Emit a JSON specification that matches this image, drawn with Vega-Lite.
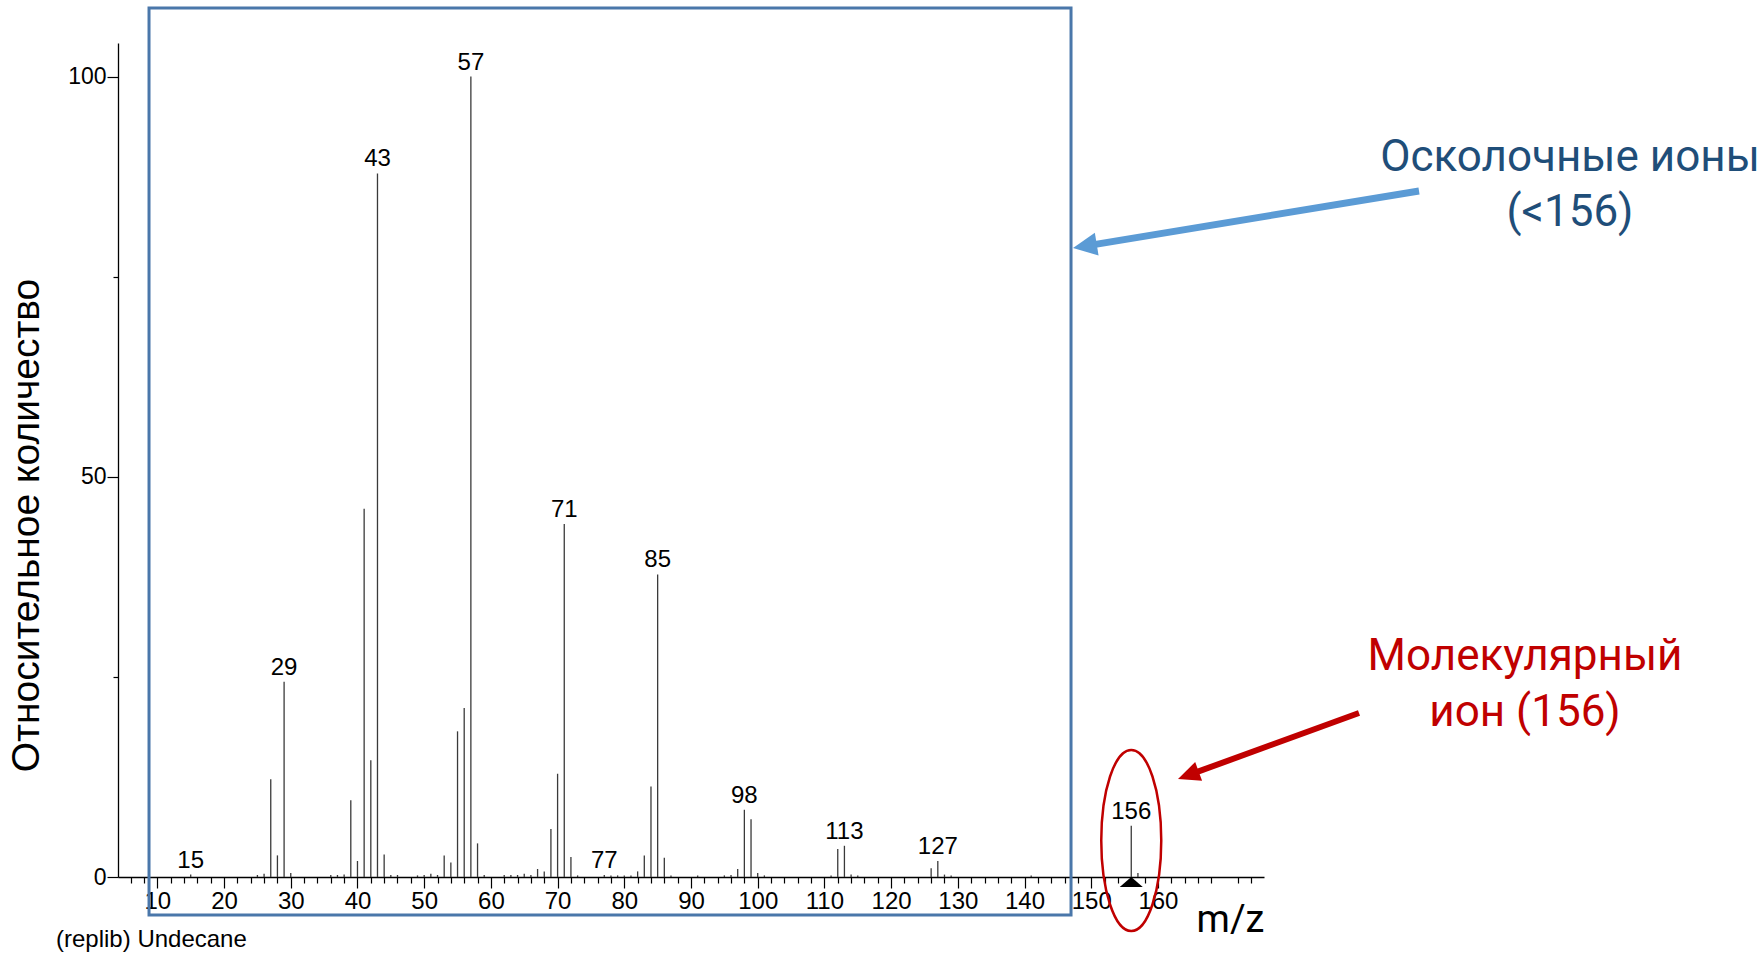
{
  "$schema": "https://vega.github.io/schema/vega-lite/v6.json",
  "width": 1146,
  "height": 834,
  "autosize": "none",
  "padding": {"left": 118, "top": 43, "right": 499, "bottom": 76},
  "background": "white",
  "config": {"view": {"stroke": null}},
  "resolve": {"axis": {"x": "independent", "y": "independent"}},
  "datasets": {
    "spectrum": [
      {"mz": 15, "ab": 0.3}, {"mz": 25, "ab": 0.25}, {"mz": 26, "ab": 0.4}, {"mz": 27, "ab": 12.2},
      {"mz": 28, "ab": 2.7}, {"mz": 29, "ab": 24.4}, {"mz": 30, "ab": 0.5}, {"mz": 36, "ab": 0.25},
      {"mz": 37, "ab": 0.25}, {"mz": 38, "ab": 0.3}, {"mz": 39, "ab": 9.6}, {"mz": 40, "ab": 2.0},
      {"mz": 41, "ab": 46.0}, {"mz": 42, "ab": 14.6}, {"mz": 43, "ab": 87.9}, {"mz": 44, "ab": 2.8},
      {"mz": 45, "ab": 0.25}, {"mz": 46, "ab": 0.25}, {"mz": 49, "ab": 0.2}, {"mz": 50, "ab": 0.25},
      {"mz": 51, "ab": 0.4}, {"mz": 52, "ab": 0.25}, {"mz": 53, "ab": 2.7}, {"mz": 54, "ab": 1.8},
      {"mz": 55, "ab": 18.2}, {"mz": 56, "ab": 21.1}, {"mz": 57, "ab": 100}, {"mz": 58, "ab": 4.2},
      {"mz": 59, "ab": 0.25}, {"mz": 62, "ab": 0.25}, {"mz": 63, "ab": 0.25}, {"mz": 64, "ab": 0.25},
      {"mz": 65, "ab": 0.4}, {"mz": 66, "ab": 0.25}, {"mz": 67, "ab": 1.0}, {"mz": 68, "ab": 0.7},
      {"mz": 69, "ab": 6.0}, {"mz": 70, "ab": 12.9}, {"mz": 71, "ab": 44.1}, {"mz": 72, "ab": 2.5},
      {"mz": 73, "ab": 0.2}, {"mz": 77, "ab": 0.25}, {"mz": 78, "ab": 0.2}, {"mz": 79, "ab": 0.2},
      {"mz": 80, "ab": 0.2}, {"mz": 81, "ab": 0.2}, {"mz": 82, "ab": 0.7}, {"mz": 83, "ab": 2.7},
      {"mz": 84, "ab": 11.3}, {"mz": 85, "ab": 37.8}, {"mz": 86, "ab": 2.4}, {"mz": 87, "ab": 0.2},
      {"mz": 91, "ab": 0.2}, {"mz": 95, "ab": 0.2}, {"mz": 96, "ab": 0.25}, {"mz": 97, "ab": 1.0},
      {"mz": 98, "ab": 8.4}, {"mz": 99, "ab": 7.2}, {"mz": 100, "ab": 0.5}, {"mz": 101, "ab": 0.2},
      {"mz": 111, "ab": 0.2}, {"mz": 112, "ab": 3.5}, {"mz": 113, "ab": 3.9}, {"mz": 114, "ab": 0.3},
      {"mz": 115, "ab": 0.2}, {"mz": 126, "ab": 1.1}, {"mz": 127, "ab": 2.0}, {"mz": 128, "ab": 0.3},
      {"mz": 129, "ab": 0.2}, {"mz": 141, "ab": 0.2}, {"mz": 156, "ab": 6.4}, {"mz": 157, "ab": 0.5}
    ]
  },
  "layer": [
    {
      "data": {"name": "spectrum"},
      "mark": {"type": "rule", "color": "#3a3a3a", "strokeWidth": 1.3},
      "encoding": {
        "x": {
          "field": "mz", "type": "quantitative",
          "scale": {"domain": [4.1, 175.9], "nice": false, "zero": false},
          "axis": {
            "orient": "bottom",
            "title": "m/z",
            "values": [10, 20, 30, 40, 50, 60, 70, 80, 90, 100, 110, 120, 130, 140, 150, 160],
            "tickSize": 11,
            "labelFont": "Liberation Sans", "labelFontSize": 24, "labelColor": "#000000",
            "labelPadding": 1, "labelFlush": false, "labelOverlap": false, "labelBound": false,
            "domainColor": "#000000", "domainWidth": 1.3, "tickColor": "#000000", "tickWidth": 1.2,
            "grid": false,
            "titleFont": "Roboto", "titleFontSize": 38, "titleFontWeight": "normal", "titleColor": "#000000",
            "titleX": 1112, "titleY": 54, "titleAlign": "center", "titleBaseline": "alphabetic", "titleAnchor": "start"
          }
        },
        "y": {
          "field": "ab", "type": "quantitative",
          "scale": {"domain": [0, 104.2], "nice": false},
          "axis": {
            "orient": "left",
            "title": "Относительное количество",
            "values": [0, 50, 100],
            "tickSize": 11,
            "labelFont": "Liberation Sans", "labelFontSize": 23, "labelColor": "#000000",
            "labelPadding": 1, "labelFlush": false, "labelOverlap": false, "labelBound": false,
            "domainColor": "#000000", "domainWidth": 1.3, "tickColor": "#000000", "tickWidth": 1.2,
            "grid": false,
            "titleFont": "Liberation Sans", "titleFontSize": 39, "titleFontWeight": "normal", "titleColor": "#000000",
            "titleAngle": -90, "titleX": -80, "titleY": 482, "titleAlign": "center", "titleBaseline": "alphabetic", "titleAnchor": "start"
          }
        },
        "y2": {"datum": 0}
      }
    },
    {
      "data": {"values": [{}]},
      "mark": {"type": "point", "shape": "M0,0L1,0.87L-1,0.87Z", "size": 529, "filled": true, "color": "#000000", "opacity": 1},
      "encoding": {
        "x": {
          "datum": 156,
          "axis": {
            "orient": "bottom", "title": null,
            "values": [6,8,12,14,16,18,22,24,26,28,32,34,36,38,42,44,46,48,52,54,56,58,62,64,66,68,72,74,76,78,82,84,86,88,92,94,96,98,102,104,106,108,112,114,116,118,122,124,126,128,132,134,136,138,142,144,146,148,152,154,156,158,162,164,166,168,172,174],
            "tickSize": 6, "labels": false, "domain": false, "grid": false,
            "tickColor": "#000000", "tickWidth": 1.2
          }
        },
        "y": {
          "datum": 0,
          "axis": {
            "orient": "left", "title": null,
            "values": [25, 75],
            "tickSize": 5, "labels": false, "domain": false, "grid": false,
            "tickColor": "#000000", "tickWidth": 1.2
          }
        }
      }
    },
    {
      "data": {"name": "spectrum"},
      "transform": [{"filter": {"field": "mz", "oneOf": [15, 29, 43, 57, 71, 77, 85, 98, 113, 127, 156]}}],
      "mark": {"type": "text", "baseline": "alphabetic", "align": "center", "dy": -7, "font": "Liberation Sans", "fontSize": 24, "color": "#000000"},
      "encoding": {
        "x": {"field": "mz", "type": "quantitative", "axis": null},
        "y": {"field": "ab", "type": "quantitative", "axis": null},
        "text": {"field": "mz", "type": "quantitative"}
      }
    },
    {
      "data": {"values": [{}]},
      "mark": {"type": "rect", "fill": null, "fillOpacity": 0, "stroke": "#4a77aa", "strokeWidth": 3},
      "encoding": {"x": {"datum": 8.75, "axis": null}, "x2": {"datum": 146.97}, "y": {"datum": 108.57, "axis": null}, "y2": {"datum": -4.75}}
    },
    {
      "data": {"values": [{}]},
      "mark": {"type": "point", "shape": "M-0.3315,0A0.3315,1 0 1,1 0.3315,0A0.3315,1 0 1,1 -0.3315,0Z", "size": 32761, "filled": false, "stroke": "#c00000", "strokeWidth": 2.5, "opacity": 1},
      "encoding": {"x": {"datum": 156, "axis": null}, "y": {"datum": 4.56, "axis": null}}
    },
    {
      "data": {"values": [{}]},
      "mark": {"type": "rule", "color": "#5b9bd5", "strokeWidth": 7, "strokeCap": "butt"},
      "encoding": {"x": {"datum": 199.14, "axis": null}, "y": {"datum": 85.71, "axis": null}, "x2": {"datum": 149.94}, "y2": {"datum": 78.95}}
    },
    {
      "data": {"values": [{}]},
      "mark": {"type": "point", "shape": "M0,0L-1,-0.48L-1,0.48Z", "size": 2304, "angle": 170.7, "filled": true, "color": "#5b9bd5", "opacity": 1},
      "encoding": {"x": {"datum": 147.27, "axis": null}, "y": {"datum": 78.59, "axis": null}}
    },
    {
      "data": {"values": [{}]},
      "mark": {"type": "rule", "color": "#c00000", "strokeWidth": 6, "strokeCap": "butt"},
      "encoding": {"x": {"datum": 190.14, "axis": null}, "y": {"datum": 20.49, "axis": null}, "x2": {"datum": 165.26}, "y2": {"datum": 12.94}}
    },
    {
      "data": {"values": [{}]},
      "mark": {"type": "point", "shape": "M0,0L-1,-0.45L-1,0.45Z", "size": 1936, "angle": 159.6, "filled": true, "color": "#c00000", "opacity": 1},
      "encoding": {"x": {"datum": 163.01, "axis": null}, "y": {"datum": 12.24, "axis": null}}
    },
    {
      "data": {"values": [{}]},
      "mark": {"type": "text", "text": ["Осколочные ионы", "(<156)"], "font": "Roboto", "fontSize": 44, "color": "#1f4e79", "align": "center", "baseline": "alphabetic", "lineHeight": 55},
      "encoding": {"x": {"datum": 221.77, "axis": null}, "y": {"datum": 88.21, "axis": null}}
    },
    {
      "data": {"values": [{}]},
      "mark": {"type": "text", "text": ["Молекулярный", "ион (156)"], "font": "Roboto", "fontSize": 44, "color": "#c00000", "align": "center", "baseline": "alphabetic", "lineHeight": 56},
      "encoding": {"x": {"datum": 215.03, "axis": null}, "y": {"datum": 25.86, "axis": null}}
    },
    {
      "data": {"values": [{}]},
      "mark": {"type": "text", "text": "(replib) Undecane", "font": "Liberation Sans", "fontSize": 24, "color": "#000000", "align": "left", "baseline": "alphabetic"},
      "encoding": {"x": {"datum": -5.19, "axis": null}, "y": {"datum": -8.75, "axis": null}}
    }
  ]
}
